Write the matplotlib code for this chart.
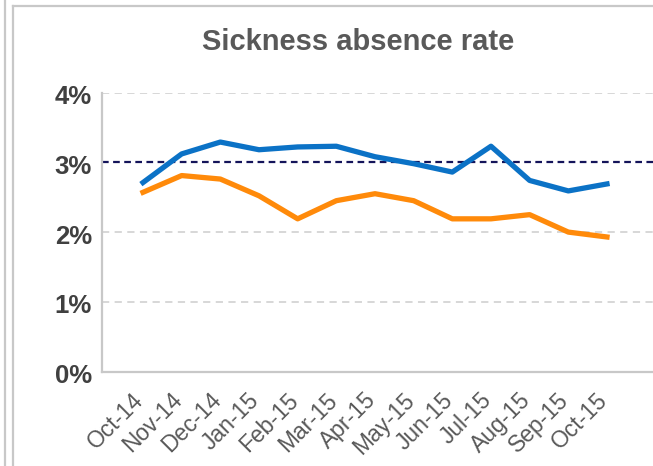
import matplotlib
matplotlib.use("Agg")
import matplotlib.pyplot as plt
from matplotlib.lines import Line2D
from matplotlib.transforms import ScaledTranslation
import numpy as np

months = ["Oct-14", "Nov-14", "Dec-14", "Jan-15", "Feb-15", "Mar-15", "Apr-15",
          "May-15", "Jun-15", "Jul-15", "Aug-15", "Sep-15", "Oct-15"]
blue_rate = [2.71, 3.12, 3.29, 3.18, 3.22, 3.23, 3.08, 2.98, 2.86, 3.23, 2.74, 2.59, 2.69]
orange_rate = [2.57, 2.81, 2.76, 2.52, 2.19, 2.45, 2.55, 2.45, 2.19, 2.19, 2.25, 2.00, 1.93]
target = 3.0
yticks = [0, 1, 2, 3, 4]
ytick_labels = ["0%", "1%", "2%", "3%", "4%"]

plt.rcParams['font.family'] = ['Liberation Sans', 'DejaVu Sans']

W, H = 653, 466
fig = plt.figure(figsize=(W / 100, H / 100), dpi=100)
fig.patch.set_facecolor("white")

left_px, right_px, bottom_px, top_px = 101.7, 653, 371.7, 92.5
ax = fig.add_axes([left_px / W, 1 - bottom_px / H,
                   (right_px - left_px) / W, (bottom_px - top_px) / H])

x = np.arange(len(months))
ax.set_xlim(-1.068, 13.19)
ax.set_ylim(0, 4)

for yv in [1, 2, 4]:
    ax.axhline(yv, color="#D4D4D4", lw=1.3, ls=(0, (4, 3)), zorder=1)
ax.axhline(target, color="#14145A", lw=1.6, ls=(0, (3, 2)), zorder=2)

ax.plot(x, blue_rate, color="#0B72C6", lw=3.8, solid_joinstyle="round", zorder=4)
ax.plot(x, orange_rate, color="#FF8A0A", lw=3.8, solid_joinstyle="round", zorder=3)

for s in ["top", "right"]:
    ax.spines[s].set_visible(False)
for s in ["left", "bottom"]:
    ax.spines[s].set_color("#C8C8C8")
    ax.spines[s].set_linewidth(1.6)

ax.set_yticks(yticks)
ax.set_yticklabels(ytick_labels, fontsize=18.5, fontweight="bold", color="#404040")
ax.tick_params(axis="y", length=0, pad=7)
for lab in ax.get_yticklabels():
    lab.set_transform(lab.get_transform() + ScaledTranslation(0, -2 / 100, fig.dpi_scale_trans))

ax.set_xticks(x)
ax.set_xticklabels(months, fontsize=16.5, color="#595959", rotation=45,
                   ha="right", va="center", rotation_mode="anchor")
ax.tick_params(axis="x", length=0, pad=18)
for lab in ax.get_xticklabels():
    lab.set_transform(lab.get_transform() + ScaledTranslation(-3 / 100, 0, fig.dpi_scale_trans))

fig.text(358 / W, 1 - 42 / H, "Sickness absence rate", fontsize=21, fontweight="bold",
         color="#595959", ha="center", va="center")

# chart frame borders
border_c = "#C8C8C8"
fig.add_artist(Line2D([5 / W, 5 / W], [0, 1], color=border_c, lw=1.6))
fig.add_artist(Line2D([13 / W, 13 / W], [0, 1 - 6 / H], color=border_c, lw=1.6))
fig.add_artist(Line2D([13 / W, 1], [1 - 6 / H, 1 - 6 / H], color=border_c, lw=1.6))

fig.savefig("out.png", dpi=100, facecolor="white")
